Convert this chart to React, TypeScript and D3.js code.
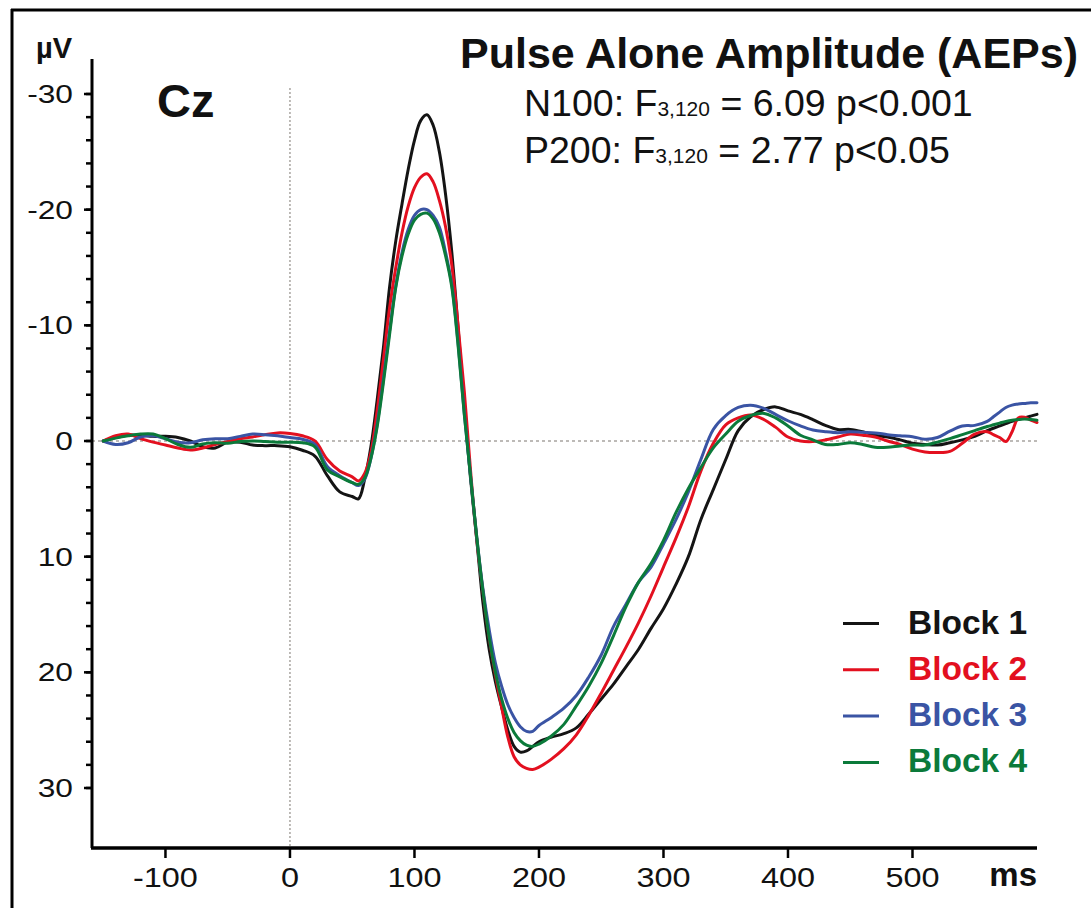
import React from "react";
import * as d3 from "d3";

const times = [-150,-140,-130,-120,-110,-100,-90,-80,-70,-60,-50,-40,-30,-20,-10,0,10,20,30,40,50,55,60,65,70,75,80,85,90,95,100,105,110,115,120,125,130,135,140,145,150,155,160,165,170,175,180,185,190,195,200,210,220,230,240,250,260,270,280,290,300,310,320,330,340,350,360,370,380,390,400,410,420,430,440,450,460,470,480,490,500,510,520,530,540,550,560,565,570,575,580,585,590,595,600];

const block1 = [0,-0.3,-0.5,-0.5,-0.4,-0.4,-0.3,0.0,0.5,0.6,0.1,0.1,0.35,0.4,0.4,0.5,0.8,1.3,3.0,4.4,4.8,5.0,3.3,0.5,-3.5,-8.0,-13.3,-17.3,-20.5,-23.5,-26.0,-27.7,-28.2,-27.3,-25.0,-21.3,-16.3,-9.8,-3.0,3.2,8.5,14.0,18.0,20.8,23.0,25.0,26.4,26.9,26.8,26.4,26.0,25.6,25.3,24.8,23.6,22.3,21.0,19.5,18.0,16.2,14.5,12.4,10.0,6.8,4.2,1.6,-0.9,-2.1,-2.7,-2.95,-2.6,-2.3,-1.85,-1.35,-1.0,-1.0,-0.8,-0.5,-0.35,-0.1,0.2,0.3,0.35,0.15,-0.1,-0.4,-0.9,-1.1,-1.3,-1.5,-1.7,-1.85,-2.0,-2.15,-2.3];

const block2 = [0,-0.45,-0.6,-0.2,0.1,0.35,0.6,0.78,0.6,0.3,0.05,-0.2,-0.35,-0.55,-0.7,-0.65,-0.45,0.0,1.6,2.6,3.1,3.45,2.8,1.0,-2.6,-7.0,-11.5,-15.0,-18.0,-20.3,-21.9,-22.8,-23.1,-22.4,-20.8,-18.5,-15.2,-10.0,-4.3,2.5,8.5,13.0,17.0,20.2,23.0,25.6,27.3,28.0,28.3,28.4,28.2,27.5,26.6,25.4,23.7,21.8,19.8,17.8,15.7,13.4,10.9,8.4,5.7,2.6,0.2,-1.4,-2.0,-2.25,-1.9,-1.2,-0.35,0.0,0.05,-0.1,-0.35,-0.6,-0.5,-0.35,0.0,0.3,0.7,0.95,1.0,0.9,0.2,-0.6,-0.8,-0.55,-0.3,0.05,-0.8,-2.0,-2.05,-1.8,-1.6];

const block3 = [0,0.3,0.15,-0.35,-0.45,-0.2,0.1,0.15,-0.1,-0.2,-0.2,-0.4,-0.6,-0.55,-0.45,-0.3,-0.15,0.3,2.2,3.0,3.6,3.85,3.3,1.5,-1.4,-5.3,-9.5,-13.4,-16.3,-18.3,-19.5,-20.0,-20.0,-19.5,-18.5,-16.3,-13.5,-8.5,-2.4,3.0,8.3,12.8,16.3,19.2,21.2,22.8,23.9,24.7,25.1,25.1,24.6,23.9,23.1,22.0,20.4,18.5,16.0,14.1,12.2,10.9,8.9,6.8,4.4,1.6,-1.0,-2.2,-2.9,-3.1,-2.85,-2.3,-1.75,-1.3,-0.95,-0.8,-0.72,-0.8,-0.75,-0.7,-0.55,-0.45,-0.37,-0.15,-0.3,-0.85,-1.3,-1.35,-1.7,-2.1,-2.5,-2.9,-3.1,-3.2,-3.25,-3.3,-3.3];

const block4 = [0,-0.25,-0.45,-0.6,-0.6,-0.2,0.3,0.55,0.25,0.15,0.2,0.05,0.0,0.05,0.1,0.1,0.15,0.5,2.5,3.1,3.6,3.75,3.2,1.5,-1.2,-5.0,-9.2,-13.3,-16.0,-17.9,-19.1,-19.6,-19.7,-19.2,-18.0,-16.0,-13.3,-8.3,-2.3,3.0,8.3,13.0,17.0,20.0,22.3,24.0,25.2,25.9,26.3,26.4,26.2,25.5,24.5,22.9,21.2,19.2,16.8,14.3,12.2,10.6,8.6,6.2,4.1,2.3,0.6,-0.6,-1.7,-2.2,-2.4,-2.0,-1.3,-0.5,-0.1,0.3,0.3,0.15,0.3,0.55,0.55,0.43,0.35,0.35,0.1,-0.2,-0.55,-0.9,-1.25,-1.4,-1.55,-1.7,-1.8,-1.85,-1.9,-1.85,-1.8];

const seriesNames = ["Block 1", "Block 2", "Block 3", "Block 4"];
const seriesColors = ["#141414", "#e3101f", "#3a54a4", "#0b7a3a"];
const seriesValues = [block1, block2, block3, block4];

const xTicks = [-100, 0, 100, 200, 300, 400, 500];
const yMajorTicks = [-30, -20, -10, 0, 10, 20, 30];
const yMinorTicks = d3.range(-30, 31, 2);

const FONT = "'Liberation Sans', Arial, Helvetica, sans-serif";

export default function App() {
  const W = 1091, H = 908;
  const x = d3.scaleLinear().domain([-159, 600]).range([92, 1037]);
  const y = d3.scaleLinear().domain([-30, 30]).range([94, 788]);
  const axisTop = 59, axisBottom = 848, axisLeft = 92, axisRight = 1037;

  const line = d3
    .line<number>()
    .x((_, i) => x(times[i]))
    .y((d) => y(d))
    .curve(d3.curveCatmullRom.alpha(0.5));

  return (
    <svg width={W} height={H} style={{ position: "absolute", left: 0, top: 0, background: "#fff" }} fontFamily={FONT}>
      <rect x={0} y={0} width={W} height={H} fill="#fff" />
      {/* frame */}
      <line x1={11} y1={10} x2={W} y2={10} stroke="#000" strokeWidth={3} />
      <line x1={12} y1={9} x2={12} y2={H} stroke="#000" strokeWidth={3} />

      {/* reference lines */}
      <line x1={x(0)} y1={88} x2={x(0)} y2={axisBottom} stroke="#a8a4a0" strokeWidth={1.5} strokeDasharray="2,2" />
      <line x1={axisLeft} y1={y(0)} x2={axisRight} y2={y(0)} stroke="#a8a4a0" strokeWidth={1.5} strokeDasharray="3,3" />

      {/* curves */}
      {seriesValues.map((vals, k) => (
        <path key={k} d={line(vals) || ""} fill="none" stroke={seriesColors[k]} strokeWidth={3} strokeLinejoin="round" strokeLinecap="round" />
      ))}

      {/* y axis */}
      <line x1={axisLeft} y1={axisTop} x2={axisLeft} y2={axisBottom} stroke="#000" strokeWidth={3} />
      {yMinorTicks.map((t) => (
        <line key={"m" + t} x1={axisLeft - 6} x2={axisLeft} y1={y(t)} y2={y(t)} stroke="#000" strokeWidth={2.5} />
      ))}
      {yMajorTicks.map((t) => (
        <g key={"M" + t}>
          <line x1={axisLeft - 8} x2={axisLeft} y1={y(t)} y2={y(t)} stroke="#000" strokeWidth={2.5} />
          <text transform={`translate(73,${y(t)}) scale(1.22,1)`} dy="0.35em" textAnchor="end" fontSize={26} fill="#111">
            {t}
          </text>
        </g>
      ))}
      <text x={36} y={58} fontSize={29} fontWeight="bold" fill="#111">µV</text>

      {/* x axis */}
      <line x1={axisLeft - 1} y1={axisBottom} x2={axisRight} y2={axisBottom} stroke="#000" strokeWidth={3.5} />
      {xTicks.map((t) => (
        <g key={"x" + t}>
          <line x1={x(t)} x2={x(t)} y1={axisBottom} y2={axisBottom + 10} stroke="#000" strokeWidth={2.5} />
          <text transform={`translate(${x(t)},887) scale(1.2,1)`} textAnchor="middle" fontSize={27} fill="#111">
            {t}
          </text>
        </g>
      ))}
      <text x={1037} y={886} textAnchor="end" fontSize={33} fontWeight="bold" fill="#111">ms</text>

      {/* labels */}
      <text x={157} y={117} fontSize={47} fontWeight="bold" fill="#111">Cz</text>
      <text x={1078} y={68} textAnchor="end" fontSize={43} fontWeight="bold" fill="#111">Pulse Alone Amplitude (AEPs)</text>
      <text x={524} y={116} fontSize={37.5} fill="#111">
        N100: F<tspan fontSize={21}>3,120</tspan> = 6.09 p&lt;0.001
      </text>
      <text x={524} y={163} fontSize={37.5} fill="#111">
        P200: F<tspan fontSize={21}>3,120</tspan> = 2.77 p&lt;0.05
      </text>

      {/* legend */}
      {seriesNames.map((name, k) => (
        <g key={name}>
          <line x1={843} x2={879} y1={623.5 + k * 46.3} y2={623.5 + k * 46.3} stroke={seriesColors[k]} strokeWidth={3} />
          <text x={908} y={634 + k * 46} fontSize={33.5} fontWeight="bold" fill={seriesColors[k]}>
            {name}
          </text>
        </g>
      ))}
    </svg>
  );
}
